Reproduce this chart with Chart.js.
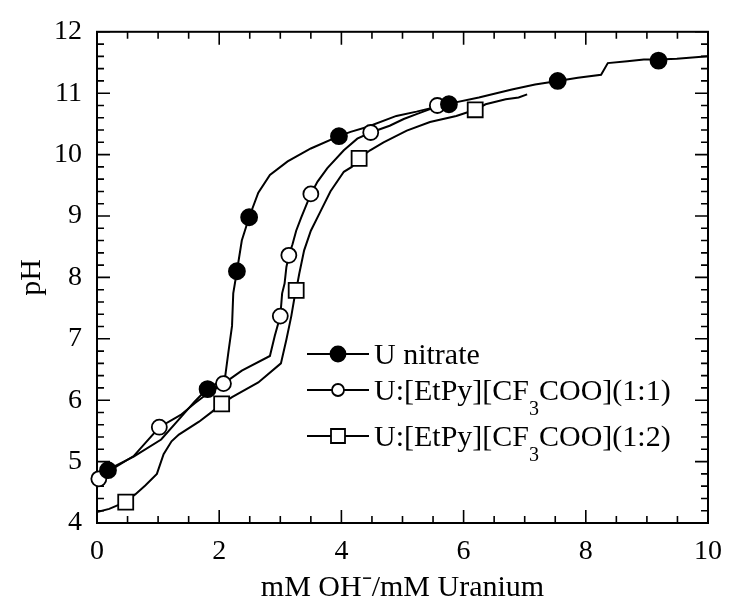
<!DOCTYPE html>
<html lang="en">
<head>
    <meta charset="UTF-8">
    <title>pH titration curves</title>
    <style>
        body { margin: 0; background: #fff; }
    </style>
</head>
<body>
    <canvas id="phChart" width="734" height="603"></canvas>

    <script src="https://cdn.jsdelivr.net/npm/chart.js@4.4.0/dist/chart.umd.min.js"></script>

    <script>
        // traced curves (mM OH- / mM U vs pH)
        const nitrateX = [0, 0.18, 0.6, 1.05, 1.37, 1.6, 1.8, 2.0, 2.1, 2.15, 2.21, 2.23, 2.29, 2.37, 2.49, 2.64, 2.83, 3.12, 3.5, 3.96, 4.15, 4.42, 4.9, 5.23, 5.77, 6.25, 6.79, 7.17, 7.54, 7.87, 8.25, 8.36, 8.68, 8.95, 9.19, 9.49, 10];
        const nitrateY = [4.82, 4.87, 5.08, 5.36, 5.72, 5.98, 6.18, 6.3, 6.4, 6.78, 7.21, 7.74, 8.1, 8.6, 8.98, 9.38, 9.67, 9.89, 10.1, 10.3, 10.37, 10.45, 10.63, 10.7, 10.83, 10.93, 11.06, 11.14, 11.2, 11.25, 11.3, 11.49, 11.52, 11.55, 11.55, 11.56, 11.6];

        const ratio11X = [0, 0.2, 0.6, 1.02, 1.37, 1.6, 1.8, 2.07, 2.37, 2.83, 2.91, 3.0, 3.03, 3.07, 3.1, 3.14, 3.2, 3.26, 3.34, 3.5, 3.61, 3.77, 4.04, 4.26, 4.48, 4.79, 5.02, 5.23, 5.45, 5.57];
        const ratio11Y = [4.7, 4.85, 5.09, 5.56, 5.76, 5.95, 6.1, 6.27, 6.48, 6.72, 7.05, 7.37, 7.74, 7.9, 8.17, 8.36, 8.54, 8.76, 8.97, 9.36, 9.56, 9.78, 10.07, 10.26, 10.36, 10.47, 10.58, 10.66, 10.74, 10.8];

        const ratio12X = [0, 0.2, 0.46, 0.63, 0.79, 0.98, 1.09, 1.22, 1.34, 1.67, 1.88, 2.04, 2.21, 2.64, 3.01, 3.1, 3.18, 3.23, 3.26, 3.31, 3.39, 3.5, 3.66, 3.82, 4.04, 4.17, 4.29, 4.47, 4.69, 5.07, 5.45, 5.88, 6.19, 6.36, 6.69, 6.9, 7.04];
        const ratio12Y = [4.18, 4.23, 4.34, 4.47, 4.61, 4.8, 5.12, 5.33, 5.44, 5.65, 5.81, 5.94, 6.05, 6.29, 6.6, 6.99, 7.37, 7.66, 7.79, 8.06, 8.44, 8.76, 9.08, 9.4, 9.72, 9.8, 9.94, 10.07, 10.2, 10.39, 10.53, 10.63, 10.73, 10.82, 10.9, 10.93, 10.98];

        // symbols
        const nitrateMarkX = [0.18, 1.81, 2.29, 2.49, 3.96, 5.76, 7.54, 9.19];
        const nitrateMarkY = [4.86, 6.18, 8.1, 8.98, 10.3, 10.82, 11.2, 11.53];
        const ratio11MarkX = [0.03, 1.02, 2.07, 3.0, 3.14, 3.5, 4.48, 5.57];
        const ratio11MarkY = [4.72, 5.56, 6.27, 7.37, 8.36, 9.36, 10.36, 10.8];
        const ratio12MarkX = [0.47, 2.04, 3.26, 4.29, 6.19];
        const ratio12MarkY = [4.34, 5.94, 7.79, 9.94, 10.73];

        const seriesLabels = ['U nitrate', 'U:[EtPy][CF\u2083COO](1:1)', 'U:[EtPy][CF\u2083COO](1:2)'];
        const xTitle = 'mM OH\u207B/mM Uranium';
        const yTitle = 'pH';

        const serif = 'Liberation Serif';
        const pts = (xs, ys) => xs.map((x, i) => ({ x: x, y: ys[i] }));

        const curveStyle = {
            showLine: true,
            borderColor: '#000',
            borderWidth: 2,
            pointRadius: 0,
            tension: 0
        };
        const markStyles = [
            { pointStyle: 'circle', pointRadius: 8, pointBackgroundColor: '#000' },
            { pointStyle: 'circle', pointRadius: 7.5, pointBackgroundColor: '#fff' },
            { pointStyle: 'rect', pointRadius: 10.6, pointBackgroundColor: '#fff' }
        ];

        const marks = [
            pts(nitrateMarkX, nitrateMarkY),
            pts(ratio11MarkX, ratio11MarkY),
            pts(ratio12MarkX, ratio12MarkY)
        ];
        const curves = [
            pts(nitrateX, nitrateY),
            pts(ratio11X, ratio11Y),
            pts(ratio12X, ratio12Y)
        ];

        const datasets = [];
        marks.forEach((d, i) => datasets.push(Object.assign({
            label: seriesLabels[i],
            data: d,
            showLine: false,
            clip: false,
            pointBorderColor: '#000',
            pointBorderWidth: 1.8
        }, markStyles[i])));
        curves.forEach((d, i) => datasets.push(Object.assign({ label: seriesLabels[i] + ' curve', data: d }, curveStyle)));

        // box + inward ticks on all four sides
        const frame = {
            id: 'frame',
            beforeDatasetsDraw(chart) {
                const { ctx, chartArea: a, scales: { x, y } } = chart;
                ctx.save();
                ctx.strokeStyle = '#000';
                ctx.lineWidth = 2;
                ctx.strokeRect(a.left, a.top, a.right - a.left, a.bottom - a.top);
                ctx.lineWidth = 1.6;
                ctx.beginPath();
                for (let i = 0; i <= 20; i++) {
                    const v = x.min + i * 0.5;
                    const px = x.getPixelForValue(v);
                    const len = i % 4 === 0 ? 13 : 7;
                    ctx.moveTo(px, a.bottom); ctx.lineTo(px, a.bottom - len);
                    ctx.moveTo(px, a.top); ctx.lineTo(px, a.top + len);
                }
                for (let i = 0; i <= 40; i++) {
                    const v = y.min + i * 0.2;
                    const py = y.getPixelForValue(v);
                    const len = i % 5 === 0 ? 13 : 7;
                    ctx.moveTo(a.left, py); ctx.lineTo(a.left + len, py);
                    ctx.moveTo(a.right, py); ctx.lineTo(a.right - len, py);
                }
                ctx.stroke();
                ctx.restore();
            }
        };

        // legend drawn inside the plot, with a real subscript 3
        const insideLegend = {
            id: 'insideLegend',
            afterDatasetsDraw(chart) {
                const ctx = chart.ctx;
                const rows = [354, 390, 436];
                ctx.save();
                seriesLabels.forEach((label, i) => {
                    const cy = rows[i];
                    ctx.strokeStyle = '#000';
                    ctx.lineWidth = 1.8;
                    ctx.beginPath();
                    ctx.moveTo(307, cy); ctx.lineTo(369, cy);
                    ctx.stroke();
                    ctx.fillStyle = markStyles[i].pointBackgroundColor;
                    ctx.beginPath();
                    if (markStyles[i].pointStyle === 'rect') {
                        ctx.rect(338 - 7, cy - 7, 14, 14);
                    } else {
                        ctx.arc(338, cy, i === 0 ? 7.5 : 6, 0, Math.PI * 2);
                    }
                    ctx.fill();
                    ctx.stroke();

                    ctx.fillStyle = '#000';
                    ctx.textBaseline = 'alphabetic';
                    let tx = 374;
                    const base = cy + 10;
                    label.split(/(\u2083)/).forEach(part => {
                        if (part === '\u2083') {
                            ctx.font = '20px "' + serif + '"';
                            ctx.fillText('3', tx, base + 15);
                            tx += ctx.measureText('3').width;
                        } else if (part) {
                            ctx.font = '30px "' + serif + '"';
                            ctx.fillText(part, tx, base);
                            tx += ctx.measureText(part).width;
                        }
                    });
                });
                ctx.restore();
            }
        };

        const tickFont = { family: serif, size: 28 };
        const titleFont = { family: serif, size: 30 };

        new Chart(document.getElementById('phChart').getContext('2d'), {
            type: 'scatter',
            data: { datasets: datasets },
            options: {
                responsive: false,
                animation: false,
                events: [],
                layout: { padding: { top: 25, right: 19, left: 0, bottom: 0 } },
                plugins: {
                    legend: { display: false },
                    tooltip: { enabled: false }
                },
                scales: {
                    x: {
                        type: 'linear',
                        min: 0,
                        max: 10,
                        grid: { display: false, drawTicks: false },
                        border: { display: false },
                        ticks: { stepSize: 2, autoSkip: false, maxRotation: 0, color: '#000', font: tickFont, padding: 12 },
                        title: { display: true, text: xTitle, color: '#000', font: titleFont, padding: { top: 0, bottom: -3 } },
                        afterFit: s => { s.height = 80; }
                    },
                    y: {
                        type: 'linear',
                        min: 4,
                        max: 12,
                        grid: { display: false, drawTicks: false },
                        border: { display: false },
                        ticks: { stepSize: 1, autoSkip: false, color: '#000', font: tickFont, padding: 15 },
                        title: { display: true, text: yTitle, color: '#000', font: titleFont, padding: { top: 14, bottom: 0 } },
                        afterFit: s => { s.width = 97; }
                    }
                }
            },
            plugins: [frame, insideLegend]
        });
    </script>
</body>
</html>
